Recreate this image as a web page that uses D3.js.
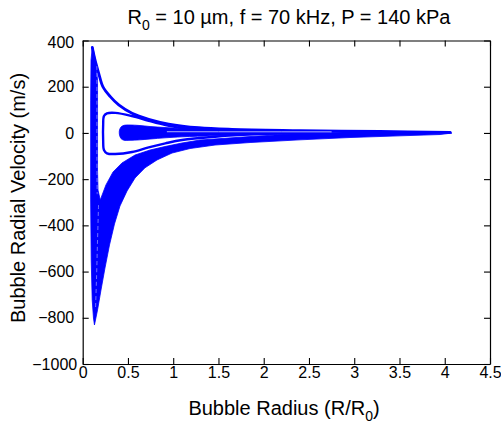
<!DOCTYPE html>
<html><head><meta charset="utf-8">
<script src="https://cdn.jsdelivr.net/npm/d3@7"></script>
<style>
body{margin:0;background:#fff}
svg{display:block}
text{font-family:"Liberation Sans",Arial,Helvetica,sans-serif;fill:#000}
</style>
</head><body>
<svg id="chart" width="501" height="424"></svg>
<script>
// ---- data (R/R0, velocity m/s) ----
const xTicks = [0, 0.5, 1, 1.5, 2, 2.5, 3, 3.5, 4, 4.5];
const yTicks = [400, 200, 0, -200, -400, -600, -800, -1000];

// upper branch of the trajectory (thin curve from the collapse peak to max radius)
const upperBranch = [[0.106,370],[0.136,316],[0.177,258],[0.224,199],[0.305,157],[0.398,121],[0.545,85],[0.729,59],[0.950,38.5],[1.282,22.5],[1.650,15.6],[2.40,10.4],[3.285,6.1],[4.06,2.6]];

// dense band: left rebound column + lower (contraction) band, outline
const bandLeftEdge  = [[0.106,372],[0.092,315],[0.088,142],[0.088,-290],[0.094,-550],[0.105,-723],[0.119,-801]];
const bandOuterEdge = [[0.130,-831],[0.164,-766],[0.202,-680],[0.246,-585],[0.296,-485],[0.351,-394],[0.412,-316],[0.490,-251],[0.578,-195],[0.688,-151],[0.821,-117],[0.987,-87],[1.186,-67.5],[1.462,-52.4],[1.849,-41.5],[2.401,-29.9],[2.953,-19.9],[3.506,-12.6],[3.948,-6.9],[4.080,-0.4]];
const bandInnerEdge = [[3.948,-1.3],[3.506,2.6],[2.953,4.8],[2.401,-2.6],[1.849,-15.6],[1.296,-30.7],[1.097,-43.7],[0.909,-58.9],[0.744,-74],[0.578,-95.7],[0.434,-130],[0.335,-169],[0.257,-225],[0.194,-290]];
const bandRightEdge = [[0.169,-247],[0.164,-161],[0.164,13],[0.164,142],[0.164,229],[0.141,315],[0.112,372]];

// inner loop around the origin
const innerLoop = [[2.732,4.8],[1.870,6.9],[1.462,12.6],[1.097,21.2],[0.913,34.2],[0.729,52.8],[0.545,73.1],[0.360,87],[0.268,84.8],[0.235,73.1],[0.226,34.2],[0.226,-30.7],[0.235,-74],[0.268,-88.3],[0.360,-91.3],[0.545,-82.7],[0.729,-62.3],[0.913,-45],[1.097,-30.7],[1.462,-16.4],[1.870,-6.1],[2.732,1.3]];

// central filled attractor (teardrop)
const blobTop    = [[2.404,5.6],[1.870,10],[1.462,14.3],[1.097,18.6],[0.909,23.4],[0.744,27.7],[0.633,32],[0.523,34.2],[0.456,32.9],[0.423,25.5],[0.407,12.6],[0.404,1.7]];
const blobBottom = [[0.407,-9.1],[0.423,-24.2],[0.456,-31.6],[0.523,-32],[0.633,-29.9],[0.744,-26.4],[0.909,-21.2],[1.097,-16.9],[1.462,-12.1],[1.870,-8.2],[2.404,-4.8]];

// faint gaps between trajectories
const gapColumn = [[0.156,290],[0.157,150],[0.157,-100],[0.160,-265]];
const gapLower  = [[0.175,-312],[0.164,-463],[0.152,-637],[0.141,-766]];
const gapRight  = [[0.93,5.2],[1.5,5.0],[2.2,4.8],[2.75,4.6]];

// ---- layout ----
const svg = d3.select("#chart");
const x = d3.scaleLinear().domain([0, 4.5]).range([82.7, 490]);
const y = d3.scaleLinear().domain([-1000, 400]).range([364, 40.5]);
const blue = "#0000ff";
const line = d3.line().x(d => x(d[0])).y(d => y(d[1]));
const smooth = d3.line().x(d => x(d[0])).y(d => y(d[1])).curve(d3.curveCatmullRom.alpha(0.5));

const plot = svg.append("g");

// dense band polygon
const bandPoly = bandLeftEdge.concat(bandOuterEdge, bandInnerEdge, bandRightEdge);
plot.append("path").attr("d", line(bandPoly) + "Z")
  .attr("fill", blue).attr("stroke", blue).attr("stroke-width", 0.8).attr("stroke-linejoin","round");

// blob
plot.append("path").attr("d", smooth(blobTop.concat(blobBottom)) + "Z")
  .attr("fill", blue).attr("stroke", blue).attr("stroke-width", 0.8);

// inner loop
plot.append("path").attr("d", smooth(innerLoop))
  .attr("fill", "none").attr("stroke", blue).attr("stroke-width", 2.4);

// upper branch
plot.append("path").attr("d", smooth(upperBranch))
  .attr("fill", "none").attr("stroke", blue).attr("stroke-width", 2.8).attr("stroke-linecap","round");

// faint gaps
[gapColumn, gapLower].forEach(g => plot.append("path").attr("d", smooth(g))
  .attr("fill","none").attr("stroke","#8a8aff").attr("stroke-width",0.8).attr("stroke-dasharray","4,3"));
plot.append("path").attr("d", line(gapRight))
  .attr("fill","none").attr("stroke","#c8c8f4").attr("stroke-width",0.9);

// ---- axes (MATLAB-style box, inward ticks) ----
const fs = "16px";
const gx = svg.append("g").attr("transform", `translate(0,${y(-1000)})`)
  .call(d3.axisBottom(x).tickValues(xTicks).tickFormat(d3.format("")).tickSize(-6).tickSizeOuter(0).tickPadding(3));
const gxt = svg.append("g").attr("transform", `translate(0,${y(400)})`)
  .call(d3.axisTop(x).tickValues(xTicks).tickFormat("").tickSize(-6).tickSizeOuter(0));
const gy = svg.append("g").attr("transform", `translate(${x(0)},0)`)
  .call(d3.axisLeft(y).tickValues(yTicks).tickFormat(d3.format("d")).tickSize(-6).tickSizeOuter(0).tickPadding(8.5));
const gyr = svg.append("g").attr("transform", `translate(${x(4.5)},0)`)
  .call(d3.axisRight(y).tickValues(yTicks).tickFormat("").tickSize(-6).tickSizeOuter(0));
[gx, gxt, gy, gyr].forEach(g => {
  g.select(".domain").attr("stroke", "#000").attr("stroke-width", 1.2);
  g.selectAll(".tick line").attr("stroke", "#000").attr("stroke-width", 1.1);
  g.selectAll("text").attr("font-size", fs).attr("font-family", '"Liberation Sans",Arial,sans-serif').attr("fill", "#000");
});
gy.selectAll(".tick text").filter(d => d === -1000).attr("x", -5.5);
gy.selectAll(".tick text").filter(d => d === 400).attr("dy", "0.45em");

// ---- titles ----
const title = svg.append("text").attr("x", 289).attr("y", 24).attr("text-anchor", "middle").attr("font-size", "20px");
title.append("tspan").text("R");
title.append("tspan").attr("dy", 6).attr("font-size", "14px").text("0");
title.append("tspan").attr("dy", -6).text(" = 10 µm, f = 70 kHz, P = 140 kPa");

const xl = svg.append("text").attr("x", 284).attr("y", 415).attr("text-anchor", "middle").attr("font-size", "20px");
xl.append("tspan").text("Bubble Radius (R/R");
xl.append("tspan").attr("dy", 6).attr("font-size", "14px").text("0");
xl.append("tspan").attr("dy", -6).text(")");

svg.append("text").attr("transform", "translate(25,198) rotate(-90)")
  .attr("text-anchor", "middle").attr("font-size", "20px").text("Bubble Radial Velocity (m/s)");
</script>
</body></html>
